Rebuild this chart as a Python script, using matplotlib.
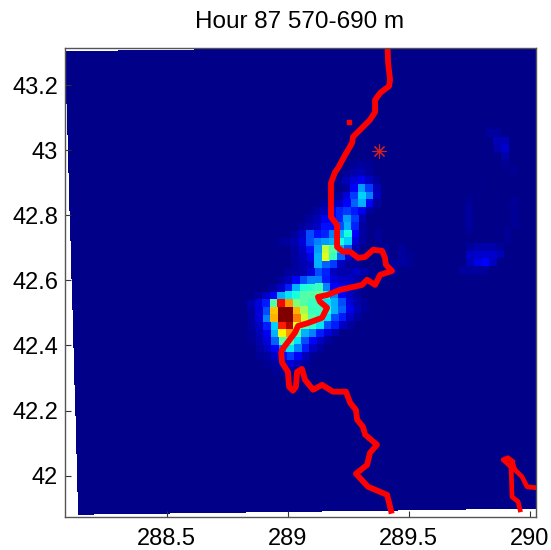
import numpy as np
import matplotlib
matplotlib.use('Agg')
import matplotlib.pyplot as plt

plt.rcParams['font.family'] = ['Liberation Sans', 'DejaVu Sans']

# Concentration (0-1 of the colour scale), grid is 62 x 61 cells
background = 0.008
plume_first_row = 15
plume_first_col = [37, 36, 35, 36, 35, 33, 32, 31, 30, 29, 27, 29, 29, 29, 28, 27, 26, 24, 23, 23, 23, 23, 23, 23, 24, 24, 25, 26]
plume_rows = [
    [.02, .03, .02],
    [.02, .04, .05, .03],
    [.02, .05, .08, .10, .06, .03],
    [.03, .12, .28, .18, .05],
    [.03, .08, .18, .33, .25, .06],
    [.03, .04, .06, .12, .22, .30, .12, .03],
    [.03, .05, .10, .16, .18, .15, .10, .03],
    [.03, .05, .10, .12, .16, .28, .18, .05],
    [.03, .04, .06, .14, .14, .20, .30, .16, .03],
    [.03, .06, .20, .14, .16, .25, .30, .38, .12, .03],
    [.02, .03, .04, .08, .20, .25, .28, .30, .38, .33, .08, .03],
    [.03, .06, .14, .28, .58, .45, .30, .20, .04],
    [.03, .05, .10, .30, .62, .42, .22, .08, .03],
    [.03, .04, .06, .30, .22, .18, .06, .03, .03],
    [.03, .03, .04, .08, .20, .16, .06, .04, .04, .06, .04, .02],
    [.03, .05, .12, .20, .25, .25, .15, .08, .06, .06, .04, .02],
    [.03, .06, .15, .30, .38, .40, .42, .25, .12, .10, .06, .03],
    [.03, .06, .12, .30, .35, .38, .45, .45, .48, .40, .25, .12, .06, .03],
    [.04, .08, .15, .45, .90, .75, .50, .45, .42, .42, .35, .30, .20, .08, .04, .02],
    [.03, .08, .20, .70, 1.0, 1.0, .72, .55, .42, .42, .38, .30, .22, .10, .05, .02],
    [.03, .08, .25, .72, 1.0, 1.0, .78, .60, .45, .40, .35, .20, .15, .06, .03],
    [.03, .06, .15, .33, .88, .95, .62, .45, .40, .35, .20, .15, .06, .03],
    [.02, .05, .10, .30, .65, .75, .45, .30, .25, .15, .08, .04],
    [.02, .04, .08, .22, .45, .45, .35, .20, .12, .06, .03],
    [.03, .06, .12, .25, .35, .25, .15, .06, .03],
    [.02, .03, .06, .14, .18, .12, .05, .02],
    [.02, .03, .05, .08, .05, .03],
    [.02, .02, .03, .02],
]

# faint patches on the right hand side: row, col, value
faint_row = [10, 11, 11, 12, 12, 13, 13, 14, 15, 16, 18, 19, 20, 21, 22, 23, 24, 20, 21, 22, 23, 24, 25,
             26, 26, 26, 26, 26, 27, 27, 27, 27, 27, 28, 28, 28, 28, 29, 29, 29, 29, 30, 30,
             24, 25, 26, 27, 28, 29, 26, 27, 28, 27, 28]
faint_col = [55, 55, 56, 56, 57, 56, 57, 57, 57, 58, 54, 53, 52, 52, 52, 52, 52, 58, 58, 58, 58, 57, 57,
             52, 53, 54, 55, 56, 52, 53, 54, 55, 56, 52, 53, 54, 55, 51, 52, 53, 54, 52, 53,
             40, 40, 41, 41, 42, 42, 43, 43, 43, 44, 44]
faint_val = [.015, .03, .03, .05, .05, .04, .07, .04, .02, .02, .015, .015, .02, .03, .03, .03, .02, .02, .02, .02, .02, .02, .02,
             .03, .04, .04, .04, .03, .06, .07, .07, .07, .05, .05, .09, .11, .06, .025, .03, .03, .025, .015, .015,
             .02, .02, .025, .025, .03, .03, .025, .03, .03, .02, .02]

# Coast
coast_lon = [289.413, 289.415, 289.423, 289.419, 289.382, 289.361, 289.361, 289.340, 289.270, 289.266,
             289.237, 289.208, 289.196, 289.179, 289.179, 289.204, 289.204, 289.229, 289.258, 289.291,
             289.320, 289.353, 289.390, 289.402, 289.406, 289.431, 289.382, 289.361, 289.328, 289.307,
             289.216, 289.163, 289.125, 289.134, 289.163, 289.142, 289.084, 289.043, 289.030, 288.977,
             288.973, 288.977, 289.001, 289.006, 289.022, 289.034, 289.039, 289.059, 289.072, 289.105,
             289.142, 289.187, 289.241, 289.258, 289.282, 289.287, 289.311, 289.320, 289.369, 289.340,
             289.328, 289.282, 289.332, 289.411, 289.427]
coast_lat = [43.311, 43.268, 43.216, 43.197, 43.176, 43.154, 43.117, 43.093, 43.041, 43.022,
             42.985, 42.945, 42.933, 42.899, 42.795, 42.770, 42.703, 42.688, 42.688, 42.669,
             42.672, 42.694, 42.691, 42.669, 42.648, 42.629, 42.617, 42.586, 42.602, 42.586,
             42.571, 42.555, 42.549, 42.534, 42.516, 42.485, 42.469, 42.460, 42.439, 42.387,
             42.377, 42.347, 42.319, 42.273, 42.261, 42.273, 42.319, 42.328, 42.294, 42.264,
             42.279, 42.258, 42.258, 42.224, 42.202, 42.172, 42.150, 42.126, 42.095, 42.070,
             42.033, 42.006, 41.966, 41.941, 41.892]

corner_lon = [289.923, 289.890, 289.910, 289.931, 289.923, 289.927, 289.952, 289.960]
corner_lat = [42.027, 42.049, 42.055, 42.043, 42.027, 41.935, 41.920, 41.895]
branch_lon = [289.931, 289.939, 289.968, 289.989, 290.026]
branch_lat = [42.035, 42.018, 41.997, 41.966, 41.963]

island_lon = [289.253]
island_lat = [43.087]
source_lon = [289.379]
source_lat = [42.996]

x_ticks = [288.5, 289, 289.5, 290]
y_ticks = [42, 42.2, 42.4, 42.6, 42.8, 43, 43.2]
x_labels = ['288.5', '289', '289.5', '290']
y_labels = ['42', '42.2', '42.4', '42.6', '42.8', '43', '43.2']

n_cols, n_rows = 62, 61
field = np.full((n_rows, n_cols), background)
for k, row in enumerate(plume_rows):
    c = plume_first_col[k]
    field[plume_first_row + k, c:c + len(row)] = row
for r, c, v in zip(faint_row, faint_col, faint_val):
    field[r, c] = v

# the model grid is slightly rotated in lon/lat
ii, jj = np.meshgrid(np.arange(n_cols + 1), np.arange(n_rows + 1))
lon = 288.0805 + 0.03140 * ii + 0.000897 * jj
lat = 43.3040 - 0.02334 * jj + 0.00031 * ii

fig = plt.figure(figsize=(5.51, 5.50), dpi=100)
ax = fig.add_axes([65 / 551, 33 / 550, 471 / 551, 469 / 550])
ax.pcolormesh(lon, lat, field, cmap='jet', vmin=0, vmax=1, shading='flat', antialiased=False)

ax.plot(coast_lon, coast_lat, color='#ff0000', lw=4.2, solid_joinstyle='round')
ax.plot(corner_lon, corner_lat, color='#ff0000', lw=3.4, solid_joinstyle='round')
ax.plot(branch_lon, branch_lat, color='#ff0000', lw=3.4, solid_joinstyle='round')
ax.plot(island_lon, island_lat, 's', color='#ff0000', ms=2.5)
ax.plot(source_lon, source_lat, marker=(8, 2, 0), color='#d02020', ms=10, mew=0.8, ls='none')

ax.set_xlim(288.08, 290.026)
ax.set_ylim(41.873, 43.314)
ax.set_xticks(x_ticks)
ax.set_xticklabels(x_labels)
ax.set_yticks(y_ticks)
ax.set_yticklabels(y_labels)
ax.tick_params(direction='in', length=4, width=0.8, color='#333333', labelsize=17)
ax.tick_params(axis='x', pad=8)
ax.tick_params(axis='y', pad=5)
for s in ax.spines.values():
    s.set_color('#555555')
    s.set_linewidth(1.0)

fig.text(300 / 551, 1 - 22 / 550, 'Hour 87 570-690 m', ha='center', va='center', fontsize=17.5)

fig.savefig('out.png', dpi=100)
